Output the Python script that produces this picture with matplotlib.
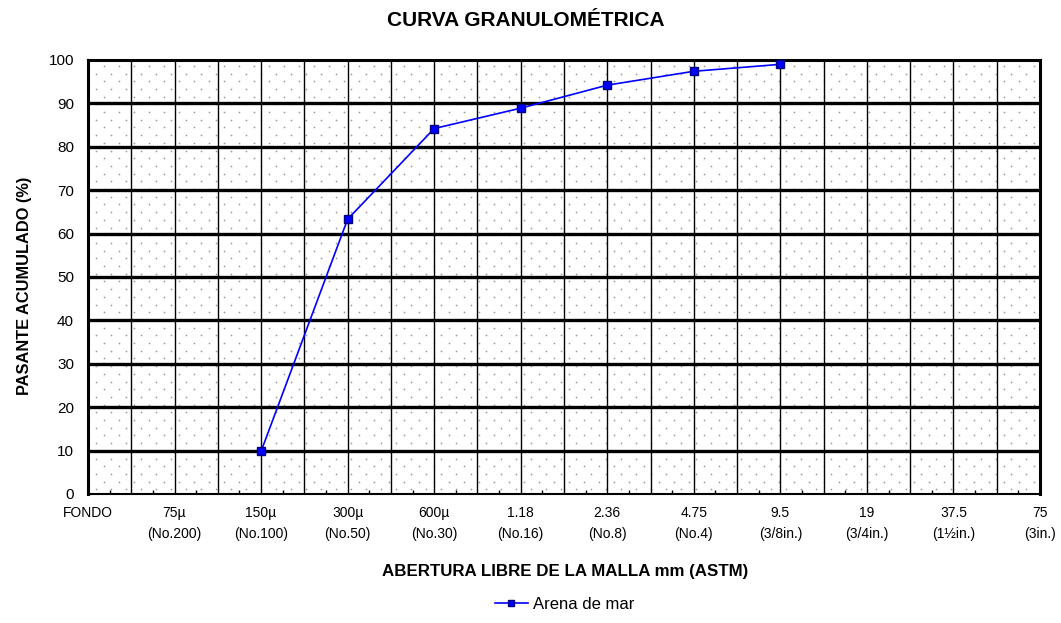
import numpy as np
import matplotlib
matplotlib.use("Agg")
import matplotlib.pyplot as plt

plt.rcParams['font.family'] = ['Liberation Sans', 'DejaVu Sans']

# Sieve sizes (ASTM) and cumulative passing percentage
sieves = ["FONDO", "75µ", "150µ", "300µ", "600µ", "1.18", "2.36",
          "4.75", "9.5", "19", "37.5", "75"]
sieve_names = ["", "(No.200)", "(No.100)", "(No.50)", "(No.30)", "(No.16)",
               "(No.8)", "(No.4)", "(3/8in.)", "(3/4in.)", "(1½in.)", "(3in.)"]
sample_sieves = ["150µ", "300µ", "600µ", "1.18", "2.36", "4.75", "9.5"]
passing = [9.8, 63.3, 84.2, 88.9, 94.2, 97.4, 99.0]
series_name = "Arena de mar"

fig = plt.figure(figsize=(10.61, 6.23), dpi=100)
ax = fig.add_axes([0.0829, 0.2071, 0.8973, 0.6966])

n = len(sieves)
ax.set_xlim(0, n - 1)
ax.set_ylim(0, 100)

# dotted background pattern, laid out in axes fractions
W, H = 952.0, 434.0
sx, sy = 15.0 / W, 7.7 / H
rows = np.arange(0, 1.0, sy) + sy * 0.6
px, py = [], []
for i, yy in enumerate(rows):
    off = (sx / 2) if i % 2 else 0.0
    xs = np.arange(0.0, 1.0, sx) + off + sx * 0.55
    xs = xs[xs < 0.998]
    px.extend(xs)
    py.extend([yy] * len(xs))
ax.scatter(px, py, s=1.5, color="#9a9a9a", marker="o", linewidths=0,
           transform=ax.transAxes, zorder=0.5, clip_on=True)

# grid: half-sieve verticals, thick horizontals every 10 %
for xv in np.arange(0.5, n - 1, 0.5):
    ax.axvline(xv, color="black", lw=1.0, zorder=1)
for yv in range(10, 100, 10):
    ax.axhline(yv, color="black", lw=2.4, zorder=1)

x_pos = [sieves.index(s) for s in sample_sieves]
ax.plot(x_pos, passing, color="#0000ff", lw=1.2, marker="s", markersize=5.5,
        markerfacecolor="#0000ff", markeredgecolor="#000080",
        markeredgewidth=1.0, label=series_name, zorder=3, clip_on=False)

ax.set_xticks(range(n))
ax.set_xticklabels([f"{a}\n{b}" for a, b in zip(sieves, sieve_names)],
                   fontsize=10, linespacing=1.6)
ax.set_xticks(np.arange(0.25, n - 1, 0.5), minor=True)
ax.tick_params(axis="x", which="major", length=0, pad=9)
ax.tick_params(axis="x", which="minor", direction="in", length=3, width=1)
ax.set_yticks(range(0, 101, 10))
ax.tick_params(axis="y", which="major", direction="in", length=3,
               labelsize=11, pad=10)

for side in ["top", "right", "left"]:
    ax.spines[side].set_linewidth(2.2)
ax.spines["bottom"].set_linewidth(1.5)

fig.text(0.496, 0.967, "CURVA GRANULOMÉTRICA", ha="center", va="center",
         fontsize=15, fontweight="bold")
fig.text(0.533, 0.083, "ABERTURA LIBRE DE LA MALLA mm (ASTM)", ha="center",
         va="center", fontsize=12.2, fontweight="bold")
fig.text(0.023, 0.542, "PASANTE ACUMULADO (%)", ha="center", va="center",
         rotation=90, fontsize=11.8, fontweight="bold")

leg = fig.legend(loc="center", bbox_to_anchor=(0.532, 0.03), frameon=False,
                 fontsize=12, handlelength=2.0, handletextpad=0.3,
                 markerscale=0.8)

fig.savefig("out.png", dpi=100)
